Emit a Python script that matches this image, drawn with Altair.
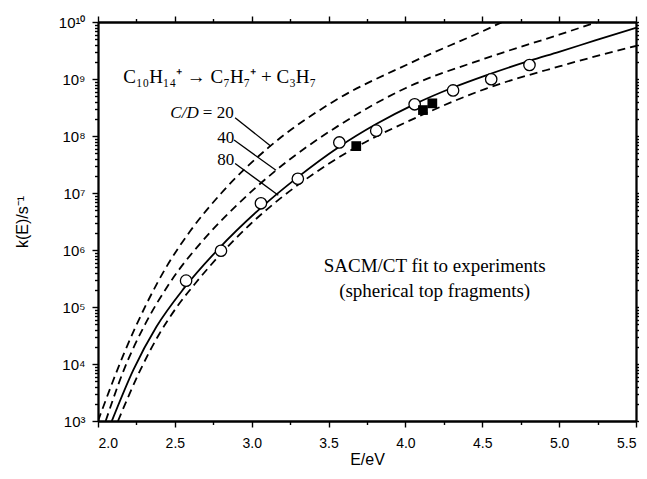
import altair as alt
import pandas as pd

# ---------------- data ----------------
# SACM/CT fit (solid line)
fit_E = [2.09, 2.23, 2.38, 2.56, 2.78, 3.06, 3.30, 3.57, 3.81, 4.06, 4.31, 4.52, 4.81, 5.00, 5.24, 5.50]
fit_k = [1.0e3, 7.9e3, 4.5e4, 2.14e5, 1.02e6, 5.5e6, 1.9e7, 6.5e7, 1.62e8, 3.63e8, 7.1e8, 1.15e9, 2.1e9, 3.0e9, 4.8e9, 7.9e9]

# dashed curves, C/D = 20, 40, 80
cd20_E = [2.00, 2.17, 2.32, 2.46, 2.60, 2.80, 3.11, 3.53, 4.04, 4.55, 4.63]
cd20_k = [1.0e3, 1.55e4, 1.2e5, 5.9e5, 2.15e6, 9.8e6, 6.3e7, 4.0e8, 1.95e9, 7.9e9, 1.0e10]
cd40_E = [2.05, 2.166, 2.307, 2.469, 2.70, 2.90, 3.15, 3.57, 4.00, 4.52, 5.00, 5.25]
cd40_k = [1.0e3, 7.6e3, 5.0e4, 2.7e5, 1.66e6, 6.0e6, 2.4e7, 1.55e8, 6.9e8, 2.3e9, 6.0e9, 1.0e10]
cd80_E = [2.13, 2.275, 2.394, 2.513, 2.643, 2.989, 3.18, 3.357, 3.638, 4.093, 4.526, 5.00, 5.456, 5.50]
cd80_k = [1.0e3, 7.8e3, 3.2e4, 1.0e5, 2.8e5, 2.8e6, 7.8e6, 1.78e7, 5.5e7, 2.24e8, 6.8e8, 1.66e9, 3.55e9, 3.8e9]

# experiments: open circles and filled squares
circ_E = [2.573, 2.80, 3.06, 3.30, 3.57, 3.81, 4.06, 4.31, 4.558, 4.807]
circ_k = [2.9e5, 9.7e5, 6.6e6, 1.78e7, 7.7e7, 1.24e8, 3.6e8, 6.3e8, 9.9e8, 1.76e9]
sq_E = [3.68, 4.114, 4.175]
sq_k = [6.65e7, 2.85e8, 3.74e8]

# axis ticks
x_major = [2.0, 2.5, 3.0, 3.5, 4.0, 4.5, 5.0, 5.5]
x_minor = [2.25, 2.75, 3.25, 3.75, 4.25, 4.75, 5.25]
y_exponents = [3, 4, 5, 6, 7, 8, 9, 10]
y_sup = ["³", "⁴", "⁵", "⁶", "⁷", "⁸", "⁹", "¹⁰"]
y_major = [10.0 ** e for e in y_exponents]
y_minor = [m * 10.0 ** e for e in y_exponents[:-1] for m in range(2, 10)]

# annotation texts
formula = "C₁₀H₁₄⁺ → C₇H₇⁺ + C₃H₇"
fit_label = ["SACM/CT fit to experiments", "(spherical top fragments)"]
cd_values = ["= 20", "40", "80"]
leader_start_E = [2.892, 2.885, 2.892]
leader_start_k = [2.1e8, 8.5e7, 3.3e7]
leader_end_E = [3.125, 3.158, 3.173]
leader_end_k = [6.6e7, 2.5e7, 9.1e6]

# ---------------- tables ----------------
fit_df = pd.DataFrame({"E": fit_E, "k": fit_k})
dash_df = pd.concat([
    pd.DataFrame({"E": cd20_E, "k": cd20_k, "cd": "20"}),
    pd.DataFrame({"E": cd40_E, "k": cd40_k, "cd": "40"}),
    pd.DataFrame({"E": cd80_E, "k": cd80_k, "cd": "80"}),
])
circ_df = pd.DataFrame({"E": circ_E, "k": circ_k})
sq_df = pd.DataFrame({"E": sq_E, "k": sq_k})
lead_df = pd.DataFrame({"E": leader_start_E, "k": leader_start_k,
                        "E2": leader_end_E, "k2": leader_end_k})

xs = alt.Scale(domain=[2.0, 5.5], nice=False, zero=False)
ys = alt.Scale(type="log", domain=[1e3, 1e10], nice=False)

label_expr = " : ".join(
    f"round(log(datum.value)/LN10) == {e} ? '10{s}'" for e, s in zip(y_exponents, y_sup)
) + " : ''"

SANS = "Liberation Sans"
SERIF = "Liberation Serif"

common = dict(domainColor="black", domainWidth=1.8, tickColor="black", tickWidth=1.4, grid=False)

ax_x_major = alt.Axis(values=x_major, format=".1f", title="E/eV", tickSize=6,
                      labelFont=SANS, labelFontSize=14, labelColor="black", labelPadding=9,
                      titleFont=SANS, titleFontSize=16, titleFontWeight="normal",
                      titleColor="black", titlePadding=1, orient="bottom", **common)
ax_x_minor = alt.Axis(values=x_minor, labels=False, title="", tickSize=3.5, orient="bottom", **common)
ax_x_top = alt.Axis(values=x_major, labels=False, title="", tickSize=6, orient="top", **common)
ax_x_top_minor = alt.Axis(values=x_minor, labels=False, title="", tickSize=3.5, orient="top", **common)

ax_y_major = alt.Axis(values=y_major, labelExpr=label_expr, title="k(E)/s⁻¹", tickSize=6,
                      labelFont=SANS, labelFontSize=15, labelColor="black", labelPadding=7,
                      titleFont=SANS, titleFontSize=16, titleFontWeight="normal",
                      titleColor="black", titlePadding=28, orient="left", **common)
ax_y_minor = alt.Axis(values=y_minor, labels=False, title="", tickSize=3.5, orient="left", **common)
ax_y_right = alt.Axis(values=y_major, labels=False, title="", tickSize=6, orient="right", **common)
ax_y_right_minor = alt.Axis(values=y_minor, labels=False, title="", tickSize=3.5, orient="right", **common)

fit_line = alt.Chart(fit_df).mark_line(color="black", strokeWidth=1.8, interpolate="monotone", clip=True).encode(
    x=alt.X("E:Q", scale=xs, axis=ax_x_major),
    y=alt.Y("k:Q", scale=ys, axis=ax_y_major),
)

dash_lines = alt.Chart(dash_df).mark_line(color="black", strokeWidth=1.8, strokeDash=[8, 5],
                                          interpolate="monotone", clip=True).encode(
    x=alt.X("E:Q", scale=xs, axis=ax_x_minor),
    y=alt.Y("k:Q", scale=ys, axis=ax_y_minor),
    detail="cd:N",
)

circles = alt.Chart(circ_df).mark_point(shape="circle", filled=True, fill="white", stroke="black",
                                        strokeWidth=1.3, size=130, opacity=1).encode(
    x=alt.X("E:Q", scale=xs, axis=ax_x_top),
    y=alt.Y("k:Q", scale=ys, axis=ax_y_right),
)

squares = alt.Chart(sq_df).mark_square(color="black", size=95, opacity=1).encode(
    x=alt.X("E:Q", scale=xs, axis=ax_x_top_minor),
    y=alt.Y("k:Q", scale=ys, axis=ax_y_right_minor),
)

leaders = alt.Chart(lead_df).mark_rule(color="black", strokeWidth=1.3).encode(
    x=alt.X("E:Q", scale=xs, axis=None),
    y=alt.Y("k:Q", scale=ys, axis=None),
    x2="E2:Q",
    y2="k2:Q",
)

formula_df = pd.DataFrame({"E": [2.164], "k": [8.4e8], "t": [formula]})
formula_text = alt.Chart(formula_df).mark_text(align="left", baseline="alphabetic", font=SERIF,
                                               fontSize=19, color="black").encode(
    x=alt.X("E:Q", scale=xs, axis=None), y=alt.Y("k:Q", scale=ys, axis=None), text="t:N")

fitlab_df = pd.DataFrame({"E": [4.19, 4.19], "k": [4.13e5, 1.47e5], "t": fit_label})
fitlab_text = alt.Chart(fitlab_df).mark_text(align="center", baseline="alphabetic", font=SERIF,
                                             fontSize=19, color="black").encode(
    x=alt.X("E:Q", scale=xs, axis=None), y=alt.Y("k:Q", scale=ys, axis=None), text="t:N")

cd_df = pd.DataFrame({"E": [2.682, 2.886, 2.886], "k": [2.04e8, 7.6e7, 3.08e7], "t": cd_values})
cd_first = alt.Chart(cd_df.iloc[[0]]).mark_text(align="left", baseline="alphabetic", font=SERIF,
                                                fontSize=17, color="black").encode(
    x=alt.X("E:Q", scale=xs, axis=None), y=alt.Y("k:Q", scale=ys, axis=None), text="t:N")
cd_rest = alt.Chart(cd_df.iloc[[1, 2]]).mark_text(align="right", baseline="alphabetic", font=SERIF,
                                                  fontSize=17, color="black").encode(
    x=alt.X("E:Q", scale=xs, axis=None), y=alt.Y("k:Q", scale=ys, axis=None), text="t:N")
cdlab_df = pd.DataFrame({"E": [2.655], "k": [2.04e8], "t": ["C/D"]})
cd_italic = alt.Chart(cdlab_df).mark_text(align="right", baseline="alphabetic", font=SERIF,
                                          fontSize=17, fontStyle="italic", color="black").encode(
    x=alt.X("E:Q", scale=xs, axis=None), y=alt.Y("k:Q", scale=ys, axis=None), text="t:N")

chart = alt.layer(
    fit_line, dash_lines, circles, squares, leaders,
    formula_text, fitlab_text, cd_first, cd_rest, cd_italic,
).resolve_axis(x="independent", y="independent").properties(
    width=538, height=399, autosize="none",
    padding={"left": 90, "top": 14, "right": 3, "bottom": 50},
    background="white",
).configure_view(strokeWidth=0)

chart.save("out.html", embed_options={"renderer": "svg", "actions": False})
